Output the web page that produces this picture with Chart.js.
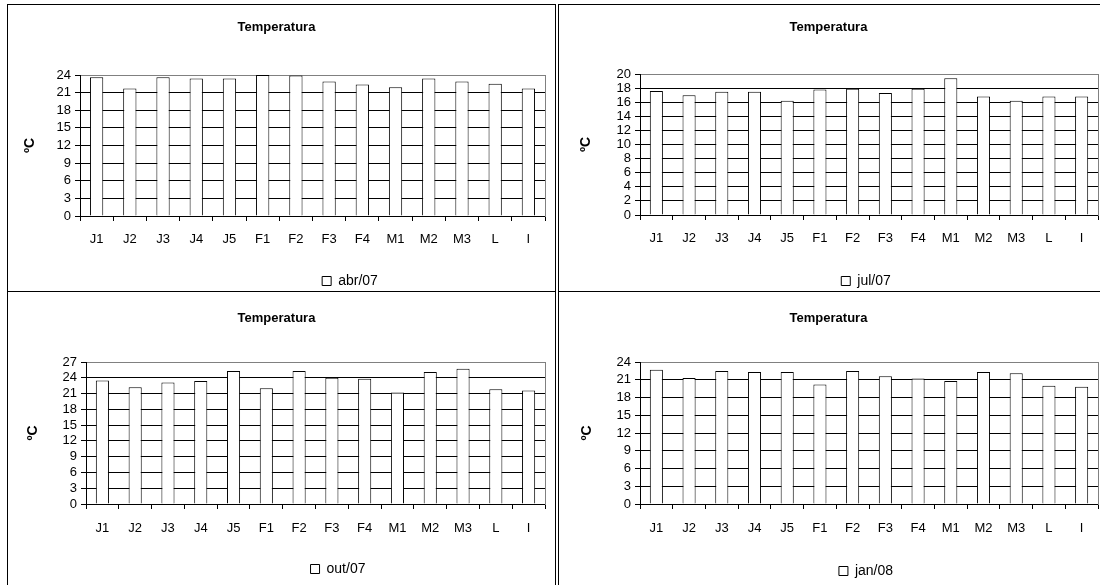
<!DOCTYPE html>
<html><head><meta charset="utf-8">
<script src="https://cdn.jsdelivr.net/npm/chart.js@4.4.1/dist/chart.umd.min.js"></script>
<style>
html,body{margin:0;padding:0;background:#fff;width:1100px;height:585px;overflow:hidden;}
.panel{position:absolute;border:1px solid #000;box-sizing:border-box;background:#fff;overflow:hidden;}
.panel canvas{position:absolute;left:0;top:0;}
</style></head><body>
<div class="panel" style="left:7px;top:4px;width:549px;height:288px"><canvas id="c1" width="547" height="286"></canvas></div>
<div class="panel" style="left:558px;top:4px;width:560px;height:288px"><canvas id="c2" width="550" height="286"></canvas></div>
<div class="panel" style="left:7px;top:291px;width:549px;height:310px"><canvas id="c3" width="547" height="293"></canvas></div>
<div class="panel" style="left:558px;top:291px;width:560px;height:310px"><canvas id="c4" width="550" height="293"></canvas></div>
<script>
const categories = ['J1','J2','J3','J4','J5','F1','F2','F3','F4','M1','M2','M3','L','I'];
const abr07 = [23.6, 21.7, 23.6, 23.4, 23.4, 24.0, 23.9, 22.9, 22.4, 21.9, 23.4, 22.9, 22.5, 21.7];
const jul07 = [17.6, 17.0, 17.5, 17.5, 16.2, 17.8, 17.9, 17.3, 17.9, 19.4, 16.8, 16.2, 16.8, 16.8];
const out07 = [23.5, 22.2, 23.1, 23.4, 25.3, 22.0, 25.3, 24.0, 23.8, 21.2, 25.1, 25.7, 21.8, 21.6];
const jan08 = [22.7, 21.3, 22.5, 22.3, 22.3, 20.2, 22.5, 21.6, 21.2, 20.8, 22.3, 22.1, 20.0, 19.8];
const ticksAbr07 = [0, 3, 6, 9, 12, 15, 18, 21, 24];
const ticksJul07 = [0, 2, 4, 6, 8, 10, 12, 14, 16, 18, 20];
const ticksOut07 = [0, 3, 6, 9, 12, 15, 18, 21, 24, 27];
const ticksJan08 = [0, 3, 6, 9, 12, 15, 18, 21, 24];
const chartTitle = 'Temperatura';
const yAxisTitle = 'ºC';

const FONT = "'Liberation Sans', Arial, sans-serif";

function buildChart(id, label, values, yTicks, g) {
  const canvas = document.getElementById(id);
  const W = canvas.width, H = canvas.height;
  const yMax = yTicks[yTicks.length - 1];
  const step = yTicks[1] - yTicks[0];
  const tSize = 13, tLH = tSize * 1.2;
  const yTSize = 14, yTLH = yTSize * 1.2;
  const lgSize = 14;
  const legendShift = {
    id: 'legendShift' + id,
    afterLayout(chart) {
      const lg = chart.legend;
      if (!lg) return;
      const dx = g.legendX - (lg.left + lg.right) / 2;
      lg.left += dx; lg.right += dx;
      const h = lg.bottom - lg.top;
      lg.top = g.legendY - lgSize / 2;
      lg.bottom = lg.top + h;
    }
  };
  return new Chart(canvas, {
    type: 'bar',
    data: {
      labels: categories,
      datasets: [{
        label: label, data: values,
        backgroundColor: '#ffffff', borderColor: '#000000', borderWidth: 1,
        barPercentage: 0.4, categoryPercentage: 1.0
      }]
    },
    options: {
      responsive: false, animation: false, devicePixelRatio: 1,
      layout: { padding: { left: 0, right: W - g.R, top: 0, bottom: 0 } },
      plugins: {
        title: {
          display: true, text: chartTitle, color: '#000',
          font: { family: FONT, size: tSize, weight: 'bold', lineHeight: 1.2 },
          padding: { top: g.titleY - tLH / 2, bottom: g.T - g.titleY - tLH / 2 }
        },
        legend: {
          display: true, position: 'bottom',
          labels: { color: '#000', font: { family: FONT, size: lgSize }, boxWidth: 9, boxHeight: 9, padding: 0 }
        },
        tooltip: { enabled: false }
      },
      scales: {
        x: {
          grid: { display: true, drawOnChartArea: false, drawTicks: true, tickLength: 5, color: '#000', offset: true },
          border: { display: true, color: '#000', width: 1 },
          ticks: { color: '#000', font: { family: FONT, size: 13 }, padding: g.xPad, maxRotation: 0, autoSkip: false },
          afterFit(s) { s.height = H - s.chart.legend.height - g.B; }
        },
        y: {
          min: 0, max: yMax,
          ticks: { stepSize: step, color: '#000', font: { family: FONT, size: 13 }, padding: 4, autoSkip: false },
          grid: {
            color: (ctx) => (ctx.tick && ctx.tick.value === yMax) ? '#808080' : '#000',
            tickColor: '#000', tickLength: 5, drawTicks: true
          },
          border: { display: true, color: '#000', width: 1 },
          title: {
            display: true, text: yAxisTitle, color: '#000',
            font: { family: FONT, size: yTSize, weight: 'bold', lineHeight: 1.2 },
            padding: { top: g.yTitleX - yTLH / 2, bottom: 0 }
          },
          afterFit(s) { s.width = g.L; }
        },
        y2: {
          position: 'right', display: true,
          grid: { drawOnChartArea: false, drawTicks: false },
          ticks: { display: false },
          border: { display: true, color: '#808080', width: 1 },
          afterFit(s) { s.width = 0; }
        }
      }
    },
    plugins: [legendShift]
  });
}

buildChart('c1', 'abr/07', abr07, ticksAbr07, { L: 72, R: 537, T: 70, B: 211, titleY: 22, yTitleX: 22, xPad: 11, legendX: 342, legendY: 276 });
buildChart('c2', 'jul/07', jul07, ticksJul07, { L: 81, R: 539, T: 69, B: 210, titleY: 22, yTitleX: 27, xPad: 11, legendX: 307, legendY: 276 });
buildChart('c3', 'out/07', out07, ticksOut07, { L: 78, R: 537, T: 70, B: 212, titleY: 26, yTitleX: 25, xPad: 12, legendX: 330, legendY: 277 });
buildChart('c4', 'jan/08', jan08, ticksJan08, { L: 81, R: 539, T: 70, B: 212, titleY: 26, yTitleX: 28, xPad: 12, legendX: 307, legendY: 279 });
</script>
</body></html>
